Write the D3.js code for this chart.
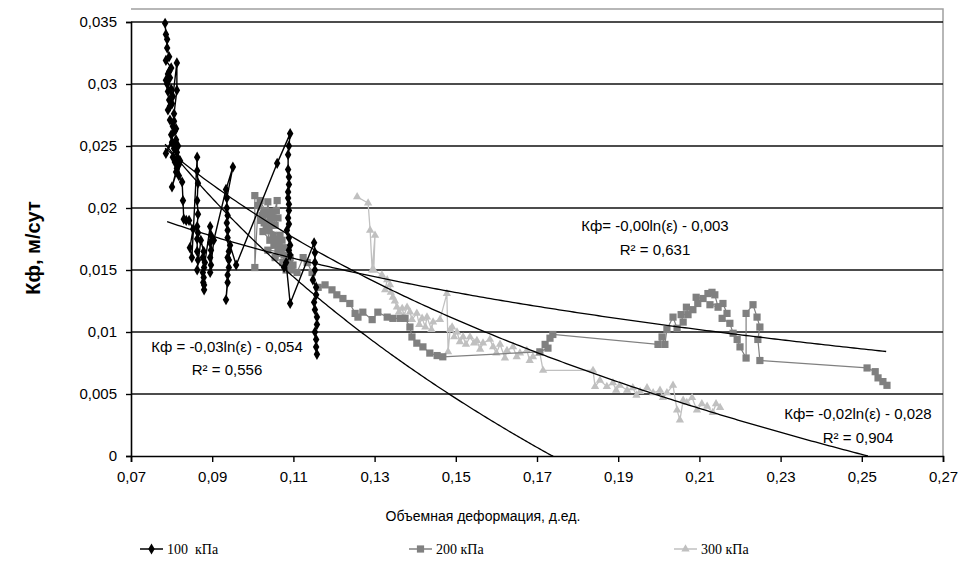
<!DOCTYPE html>
<html>
<head>
<meta charset="utf-8">
<script src="https://cdn.jsdelivr.net/npm/d3@7"></script>
<style>
  body { margin: 0; background: #fff; }
  text { font-family: "Liberation Sans", Arial, sans-serif; }
</style>
</head>
<body>
<div id="chart"></div>
<script>
// --- data ---
var xTicks = [0.07, 0.09, 0.11, 0.13, 0.15, 0.17, 0.19, 0.21, 0.23, 0.25, 0.27];
var yTicks = [0, 0.005, 0.01, 0.015, 0.02, 0.025, 0.03, 0.035];
var seriesNames = ["100  кПа", "200 кПа", "300 кПа"];

var kpa100 = [
  [0.0784,0.0349],[0.0786,0.0340],[0.0789,0.0336],[0.0789,0.0329],[0.0794,0.0322],[0.0786,0.0319],
  [0.0799,0.0313],[0.0794,0.0310],[0.0791,0.0308],[0.0789,0.0300],[0.0796,0.0305],[0.0791,0.0294],
  [0.0786,0.0303],[0.0803,0.0290],[0.0794,0.0287],[0.0799,0.0296],[0.0791,0.0279],[0.0796,0.0282],
  [0.0801,0.0284],[0.0813,0.0317],[0.0813,0.0295],[0.0806,0.0276],[0.0806,0.0270],[0.0796,0.0271],
  [0.0803,0.0266],[0.0811,0.0264],[0.0799,0.0259],[0.0808,0.0262],[0.0786,0.0244],[0.0801,0.0253],
  [0.0808,0.0252],[0.0806,0.0248],[0.0816,0.0250],[0.0811,0.0255],[0.0803,0.0241],[0.0813,0.0245],
  [0.0808,0.0237],[0.0821,0.0238],[0.0816,0.0240],[0.0813,0.0232],[0.0801,0.0217],[0.0818,0.0235],
  [0.0818,0.0226],[0.0811,0.0229],[0.0826,0.0221],[0.0828,0.0206],[0.0830,0.0191],[0.0836,0.0190],
  [0.0843,0.0190],[0.0853,0.0183],[0.0845,0.0168],[0.0850,0.0160],[0.0863,0.0241],[0.0863,0.0230],
  [0.0865,0.0220],[0.0863,0.0206],[0.0865,0.0195],[0.0863,0.0185],[0.0865,0.0180],[0.0863,0.0175],
  [0.0863,0.0165],[0.0865,0.0158],[0.0863,0.0150],[0.0872,0.0174],[0.0879,0.0165],[0.0877,0.0160],
  [0.0880,0.0152],[0.0877,0.0148],[0.0879,0.0144],[0.0880,0.0138],[0.0880,0.0134],[0.0878,0.0140],
  [0.0882,0.0156],[0.0895,0.0185],[0.0897,0.0178],[0.0895,0.0172],[0.0897,0.0166],[0.0895,0.0160],
  [0.0897,0.0154],[0.0895,0.0148],[0.0904,0.0174],[0.0934,0.0215],[0.0951,0.0233],[0.0936,0.0208],
  [0.0936,0.0200],[0.0938,0.0194],[0.0936,0.0188],[0.0938,0.0182],[0.0938,0.0176],[0.0941,0.0165],
  [0.0938,0.0160],[0.0941,0.0158],[0.0941,0.0152],[0.0938,0.0146],[0.0938,0.0140],[0.0934,0.0126],
  [0.0944,0.0170],[0.0959,0.0154],[0.1060,0.0236],[0.1092,0.0260],[0.1089,0.0250],[0.1087,0.0243],
  [0.1087,0.0231],[0.1089,0.0225],[0.1089,0.0219],[0.1087,0.0213],[0.1087,0.0208],[0.1089,0.0203],
  [0.1089,0.0198],[0.1087,0.0192],[0.1089,0.0187],[0.1084,0.0182],[0.1089,0.0176],[0.1092,0.0170],
  [0.1089,0.0166],[0.1092,0.0162],[0.1077,0.0152],[0.1082,0.0156],[0.1092,0.0123],[0.1151,0.0172],
  [0.1153,0.0164],[0.1153,0.0156],[0.1153,0.0150],[0.1148,0.0142],[0.1156,0.0136],[0.1156,0.0130],
  [0.1151,0.0124],[0.1153,0.0118],[0.1158,0.0112],[0.1158,0.0106],[0.1153,0.0100],[0.1156,0.0094],
  [0.1156,0.0088],[0.1158,0.0082]
];

var kpa200 = [
  [0.1005,0.0210],[0.1005,0.0152],[0.1013,0.0202],[0.1023,0.0194],[0.1018,0.0206],[0.1030,0.0198],
  [0.1020,0.0190],[0.1028,0.0188],[0.1035,0.0195],[0.1037,0.0205],[0.1042,0.0190],[0.1047,0.0197],
  [0.1058,0.0198],[0.1060,0.0206],[0.1050,0.0192],[0.1055,0.0186],[0.1062,0.0192],[0.1045,0.0186],
  [0.1040,0.0182],[0.1067,0.0178],[0.1033,0.0184],[0.1042,0.0174],[0.1025,0.0181],[0.1050,0.0178],
  [0.1052,0.0170],[0.1057,0.0175],[0.1072,0.0174],[0.1065,0.0170],[0.1037,0.0166],[0.1062,0.0165],
  [0.1070,0.0166],[0.1079,0.0168],[0.1055,0.0160],[0.1077,0.0162],[0.1074,0.0156],[0.1085,0.0158],
  [0.1092,0.0160],[0.1090,0.0155],[0.1082,0.0150],[0.1095,0.0150],[0.1099,0.0154],[0.1109,0.0148],
  [0.1124,0.0160],[0.1134,0.0156],[0.1146,0.0148],[0.1161,0.0136],[0.1178,0.0138],[0.1195,0.0134],
  [0.1207,0.0130],[0.1222,0.0127],[0.1239,0.0123],[0.1252,0.0115],[0.1259,0.0112],[0.1271,0.0116],
  [0.1294,0.0110],[0.1308,0.0116],[0.1331,0.0112],[0.1345,0.0111],[0.1363,0.0111],[0.1375,0.0111],
  [0.1387,0.0104],[0.1392,0.0096],[0.1404,0.0091],[0.1419,0.0088],[0.1436,0.0083],[0.1454,0.0081],
  [0.1468,0.0080],[0.1707,0.0084],[0.1727,0.0087],[0.1720,0.0090],[0.1732,0.0095],[0.1739,0.0098],
  [0.1998,0.0090],[0.2008,0.0096],[0.2015,0.0090],[0.2020,0.0102],[0.2035,0.0112],[0.2045,0.0103],
  [0.2060,0.0108],[0.2055,0.0114],[0.2072,0.0114],[0.2068,0.0120],[0.2084,0.0118],[0.2096,0.0123],
  [0.2092,0.0128],[0.2109,0.0127],[0.2121,0.0131],[0.2131,0.0132],[0.2138,0.0130],[0.2146,0.0120],
  [0.2126,0.0122],[0.2158,0.0123],[0.2168,0.0115],[0.2156,0.0111],[0.2175,0.0107],[0.2183,0.0099],
  [0.2193,0.0094],[0.2200,0.0088],[0.2215,0.0079],[0.2215,0.0115],[0.2232,0.0122],[0.2242,0.0112],
  [0.2249,0.0104],[0.2244,0.0094],[0.2249,0.0077],[0.2513,0.0071],[0.2533,0.0068],[0.2540,0.0063],
  [0.2552,0.0060],[0.2562,0.0057]
];

var kpa300 = [
  [0.1257,0.0209],[0.1284,0.0204],[0.1289,0.0182],[0.1294,0.0150],[0.1301,0.0178],[0.1298,0.0150],
  [0.1318,0.0146],[0.1331,0.0142],[0.1326,0.0134],[0.1338,0.0138],[0.1340,0.0132],[0.1345,0.0128],
  [0.1350,0.0125],[0.1355,0.0120],[0.1360,0.0116],[0.1368,0.0119],[0.1372,0.0113],[0.1380,0.0120],
  [0.1387,0.0116],[0.1392,0.0110],[0.1404,0.0115],[0.1410,0.0106],[0.1417,0.0111],[0.1425,0.0104],
  [0.1429,0.0112],[0.1440,0.0102],[0.1444,0.0108],[0.1461,0.0110],[0.1478,0.0131],[0.1481,0.0084],
  [0.1486,0.0102],[0.1491,0.0104],[0.1496,0.0096],[0.1503,0.0100],[0.1510,0.0092],[0.1518,0.0096],
  [0.1525,0.0090],[0.1535,0.0096],[0.1545,0.0091],[0.1552,0.0093],[0.1560,0.0086],[0.1567,0.0091],
  [0.1584,0.0094],[0.1592,0.0088],[0.1600,0.0083],[0.1609,0.0090],[0.1621,0.0079],[0.1626,0.0085],
  [0.1641,0.0088],[0.1650,0.0080],[0.1658,0.0083],[0.1675,0.0085],[0.1682,0.0077],[0.1690,0.0080],
  [0.1707,0.0083],[0.1715,0.0069],[0.1838,0.0069],[0.1843,0.0056],[0.1855,0.0061],[0.1872,0.0056],
  [0.1887,0.0059],[0.1895,0.0053],[0.1904,0.0057],[0.1922,0.0053],[0.1936,0.0055],[0.1945,0.0049],
  [0.1954,0.0052],[0.1971,0.0055],[0.1986,0.0051],[0.2003,0.0053],[0.2010,0.0047],[0.2020,0.0051],
  [0.2035,0.0057],[0.2045,0.0037],[0.2052,0.0029],[0.2060,0.0045],[0.2069,0.0043],[0.2082,0.0047],
  [0.2094,0.0037],[0.2106,0.0042],[0.2119,0.0040],[0.2133,0.0035],[0.2141,0.0042],[0.2151,0.0039]
];

// logarithmic trend lines Kf = -a*ln(e) - b
var trendA    = [0.0316, 0.0089, 0.0213];
var trendB    = [0.0553, 0.0037, 0.0294];
var trendFrom = [0.0784, 0.0789, 0.0784];
var trendTo   = [0.1740, 0.2560, 0.2515];
var trendText = [
  ["Кф = -0,03ln(ε) - 0,054", "R² = 0,556"],
  ["Кф= -0,00ln(ε) - 0,003", "R² = 0,631"],
  ["Кф= -0,02ln(ε) - 0,028", "R² = 0,904"]
];

// --- layout ---
var width = 958, height = 567;
var plotL = 131, plotR = 943, plotT = 9, plotB = 456;

var svg = d3.select("#chart").append("svg")
  .attr("width", width)
  .attr("height", height);

var x = d3.scaleLinear().domain([0.07, 0.27]).range([plotL, plotR]);
var y = d3.scaleLinear().domain([0, 0.035]).range([plotB, 22]);

var comma = function (s) { return s.replace(".", ","); };

// plot frame (grey top/right)
svg.append("path")
  .attr("d", "M" + plotL + "," + plotT + "H" + plotR + "V" + plotB)
  .attr("fill", "none")
  .attr("stroke", "#a0a0a0")
  .attr("stroke-width", 1.5);

// horizontal grid
svg.append("g")
  .selectAll("line")
  .data(yTicks.filter(function (d) { return d > 0; }))
  .enter().append("line")
  .attr("x1", plotL).attr("x2", plotR)
  .attr("y1", function (d) { return y(d); })
  .attr("y2", function (d) { return y(d); })
  .attr("stroke", "#111")
  .attr("stroke-width", 1.6);

// axes
var yAxis = svg.append("g")
  .attr("transform", "translate(" + plotL + ",0)")
  .call(d3.axisLeft(y).tickValues(yTicks).tickSize(5).tickPadding(9)
    .tickFormat(function (d) { return d === 0 ? "0" : comma(d3.format(".3~f")(d)); }));

var xAxis = svg.append("g")
  .attr("transform", "translate(0," + plotB + ")")
  .call(d3.axisBottom(x).tickValues(xTicks).tickSize(6).tickPadding(9)
    .tickFormat(function (d) { return comma(d3.format(".2f")(d)); }));

[yAxis, xAxis].forEach(function (g) {
  g.select(".domain").attr("stroke", "#000").attr("stroke-width", 1.6);
  g.selectAll(".tick line").attr("stroke", "#000").attr("stroke-width", 1.4);
  g.selectAll(".tick text")
    .attr("fill", "#000")
    .style("font-family", "'Liberation Sans', Arial, sans-serif")
    .style("font-size", "15px");
});

// series
var styles = [
  { data: kpa100, color: "#000000", symbol: d3.symbolDiamond, size: 36, width: 1.4 },
  { data: kpa200, color: "#808080", symbol: d3.symbolSquare, size: 52, width: 1.2 },
  { data: kpa300, color: "#c0c0c0", symbol: d3.symbolTriangle, size: 30, width: 1.3 }
];

var line = d3.line()
  .x(function (d) { return x(d[0]); })
  .y(function (d) { return y(d[1]); });

[2, 1, 0].forEach(function (i) {
  var s = styles[i];
  var g = svg.append("g");
  g.append("path")
    .datum(s.data)
    .attr("d", line)
    .attr("fill", "none")
    .attr("stroke", s.color)
    .attr("stroke-width", s.width);
  g.selectAll("path.pt")
    .data(s.data)
    .enter().append("path")
    .attr("class", "pt")
    .attr("d", d3.symbol().type(s.symbol).size(s.size))
    .attr("transform", function (d) { return "translate(" + x(d[0]) + "," + y(d[1]) + ")"; })
    .attr("fill", s.color);
});

// trend lines
trendA.forEach(function (a, i) {
  var pts = d3.range(0, 201).map(function (k) {
    var e = trendFrom[i] + (trendTo[i] - trendFrom[i]) * k / 200;
    return [e, Math.max(0, -a * Math.log(e) - trendB[i])];
  });
  svg.append("path")
    .datum(pts)
    .attr("d", line)
    .attr("fill", "none")
    .attr("stroke", "#000")
    .attr("stroke-width", 1.3);
});

// trend labels
var labelPos = [[227, 352, 375], [655, 231, 255], [858, 419, 443]];
trendText.forEach(function (t, i) {
  var p = labelPos[i];
  svg.append("text").attr("x", p[0]).attr("y", p[1]).attr("text-anchor", "middle")
    .style("font-size", "15px").text(t[0]);
  svg.append("text").attr("x", p[0]).attr("y", p[2]).attr("text-anchor", "middle")
    .style("font-size", "15px").text(t[1]);
});

// axis titles
svg.append("text")
  .attr("transform", "translate(40,248) rotate(-90)")
  .attr("text-anchor", "middle")
  .style("font-size", "20px")
  .style("font-weight", "bold")
  .text("Кф, м/сут");

svg.append("text")
  .attr("x", 483).attr("y", 521)
  .attr("text-anchor", "middle")
  .style("font-size", "14px")
  .text("Объемная деформация, д.ед.");

// legend
var legendX = [140, 409, 674];
styles.forEach(function (s, i) {
  var g = svg.append("g").attr("transform", "translate(" + legendX[i] + ",549)");
  g.append("line").attr("x1", 0).attr("x2", 23)
    .attr("stroke", s.color).attr("stroke-width", 1.5);
  g.append("path")
    .attr("d", d3.symbol().type(s.symbol).size(s.size))
    .attr("transform", "translate(11.5,0)")
    .attr("fill", s.color);
  g.append("text")
    .attr("x", 27).attr("y", 5)
    .style("font-family", "'Liberation Serif', 'Times New Roman', serif")
    .style("font-size", "14px")
    .style("white-space", "pre")
    .text(seriesNames[i]);
});
</script>
</body>
</html>
